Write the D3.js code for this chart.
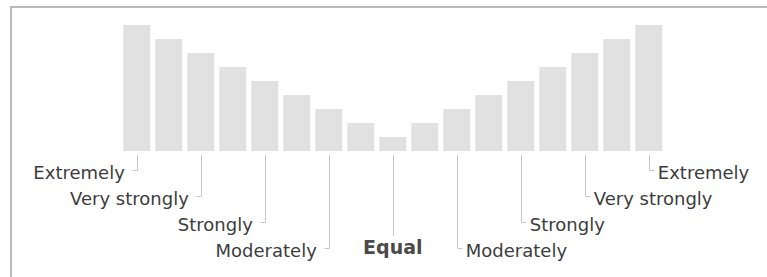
<!DOCTYPE html>
<html>
<head>
<meta charset="utf-8">
<title>Scale</title>
<script src="https://cdn.jsdelivr.net/npm/d3@7"></script>
<style>
*{
    margin: 0;
    padding: 0;
}
body{
    background: #fff;
}
</style>
</head>
<body>
	<svg width="767" height="277" id="svgScale"></svg>
	<script>
		// one bar per step of the scale, left side 9..1, right side 1..9
		var categories = d3.range(17);
		var values = [9, 8, 7, 6, 5, 4, 3, 2, 1, 2, 3, 4, 5, 6, 7, 8, 9];
		// labels hang below every second bar
		var labelBars = [0, 2, 4, 6, 8, 10, 12, 14, 16];
		var labelNames = ["Extremely", "Very strongly", "Strongly", "Moderately", "Equal",
				"Moderately", "Strongly", "Very strongly", "Extremely"];
		var labelLevels = [1, 2, 3, 4, 0, 4, 3, 2, 1];

		var svg = d3.select("svg");

		// frame (only top and left edges show)
		svg.append("path").attr("d", "M11,277V7H767").attr("fill", "none")
				.attr("stroke", "#b9b9b9").attr("stroke-width", 2);

		var x = d3.scaleBand().domain(categories).range([ 123.3, 662.3 ])
				.paddingInner(0.15625).paddingOuter(0);

		var y = d3.scaleLinear().domain([ 0, 9 ]).range([ 151, 25 ]);

		// level -> y of the elbow
		var ly = d3.scaleLinear().domain([ 1, 4 ]).range([ 170, 248 ]);

		svg.append("g").selectAll("rect").data(values).enter().append("rect")
				.attr("x", function(d, i) { return x(i); })
				.attr("y", function(d) { return y(d); })
				.attr("width", x.bandwidth())
				.attr("height", function(d) { return y(0) - y(d); })
				.attr("fill", "#e1e1e1");

		var labels = labelBars.map(function(b, i) {
			return { bar: b, name: labelNames[i], level: labelLevels[i] };
		});

		var g = svg.append("g");
		var mid = 8;

		g.selectAll("path").data(labels).enter().append("path")
				.attr("fill", "none").attr("stroke", "#c8c8c8").attr("stroke-width", 1)
				.attr("d", function(d) {
					var cx = Math.round(x(d.bar) + x.bandwidth() / 2) + 0.5;
					if (d.level === 0) return "M" + cx + ",155V236";
					var yy = Math.round(ly(d.level)) + 0.5;
					var dx = d.bar < mid ? -5 : 5;
					return "M" + cx + ",155V" + yy + "H" + (cx + dx);
				});

		g.selectAll("text").data(labels).enter().append("text")
				.attr("font-family", "DejaVu Sans")
				.attr("font-size", function(d) { return d.level === 0 ? "19px" : "18px"; })
				.attr("fill", function(d) { return d.level === 0 ? "#4a4a4a" : "#3c3c3c"; })
				.attr("font-weight", function(d) { return d.level === 0 ? "bold" : "normal"; })
				.attr("text-anchor", function(d) {
					return d.bar === mid ? "middle" : (d.bar < mid ? "end" : "start");
				})
				.attr("x", function(d) {
					var cx = x(d.bar) + x.bandwidth() / 2;
					if (d.bar === mid) return cx;
					return d.bar < mid ? cx - 12 : cx + 9;
				})
				.attr("y", function(d) {
					return d.level === 0 ? 254 : ly(d.level) + 8.5;
				})
				.text(function(d) { return d.name; });
	</script>
</body>
</html>
